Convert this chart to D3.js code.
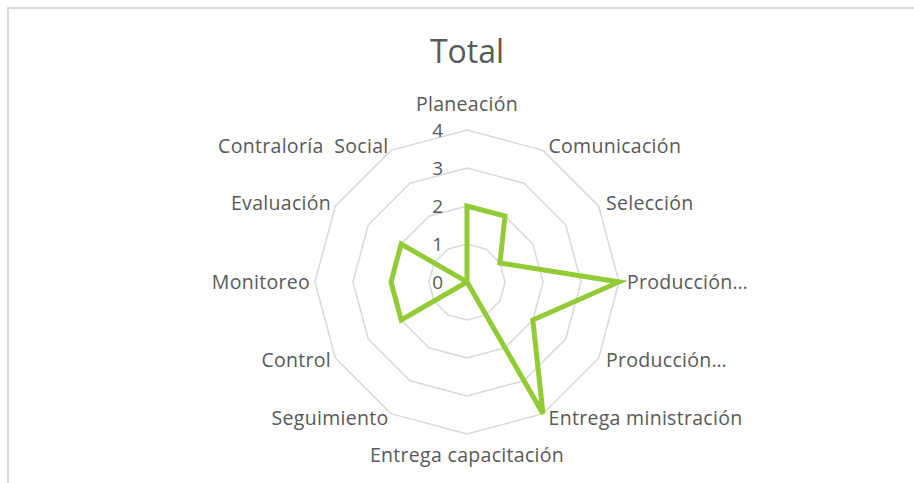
<!DOCTYPE html>
<html>
<head>
<meta charset="utf-8">
<script src="https://cdn.jsdelivr.net/npm/d3@7"></script>
<style>
  body { margin: 0; background: #fff; }
  text { font-family: "Open Sans", sans-serif; fill: #595959; }
</style>
</head>
<body>
<svg id="chart"></svg>
<script>
const categories = [
  'Planeación', 'Comunicación', 'Selección', 'Producción…', 'Producción…',
  'Entrega ministración', 'Entrega capacitación', 'Seguimiento', 'Control',
  'Monitoreo', 'Evaluación', 'Contraloría  Social'
]
const values = [2, 2, 1, 4, 2, 4, 0, 0, 2, 2, 2, 0]
const ticks = [0, 1, 2, 3, 4]

const width = 914
const height = 483
const cx = 467
const cy = 282
const R = 152

const svg = d3.select('#chart')
  .attr('width', width)
  .attr('height', height)

// outer frame (only top and left visible)
svg.append('rect')
  .attr('x', 8).attr('y', 8)
  .attr('width', 920).attr('height', 490)
  .attr('fill', 'none')
  .attr('stroke', '#d9d9d9')
  .attr('stroke-width', 2)

svg.append('text')
  .attr('x', cx).attr('y', 63)
  .attr('text-anchor', 'middle')
  .style('font-size', '32px')
  .text('Total')

const r = d3.scaleLinear().domain([0, 4]).range([0, R])
const angle = d3.scaleLinear().domain([0, categories.length]).range([0, 2 * Math.PI])

const ring = d3.lineRadial()
  .angle((d, i) => angle(i))
  .radius(d => r(d))
  .curve(d3.curveLinearClosed)

const g = svg.append('g').attr('transform', `translate(${cx},${cy})`)

g.selectAll('path.grid')
  .data(ticks.slice(1))
  .enter().append('path')
  .attr('class', 'grid')
  .attr('d', t => ring(categories.map(() => t)))
  .attr('fill', 'none')
  .attr('stroke', '#d9d9d9')
  .attr('stroke-width', 1.5)

g.selectAll('text.tick')
  .data(ticks)
  .enter().append('text')
  .attr('class', 'tick')
  .attr('x', -24)
  .attr('y', t => -r(t))
  .attr('dy', '0.35em')
  .attr('text-anchor', 'end')
  .style('font-size', '19px')
  .text(t => t)

g.append('path')
  .datum(values)
  .attr('d', ring)
  .attr('fill', 'none')
  .attr('stroke', '#92cb36')
  .attr('stroke-width', 5)
  .attr('stroke-linejoin', 'miter')

g.selectAll('text.cat')
  .data(categories)
  .enter().append('text')
  .attr('class', 'cat')
  .each(function (d, i) {
    const a = angle(i)
    const s = Math.sin(a)
    const c = Math.cos(a)
    const rr = R + 5
    let x = rr * s
    let y = -rr * c
    let anchor = 'middle'
    if (s > 0.1) { anchor = 'start'; x += 3 }
    if (s < -0.1) anchor = 'end'
    if (c > 0.99) { y = -R - 26 }
    if (c < -0.99) { y = R + 21 }
    d3.select(this)
      .attr('x', x)
      .attr('y', y)
      .attr('dy', '0.35em')
      .attr('text-anchor', anchor)
      .style('font-size', '19.5px')
      .style('letter-spacing', '0.3px')
      .style('white-space', 'pre')
      .text(d)
  })
</script>
</body>
</html>
